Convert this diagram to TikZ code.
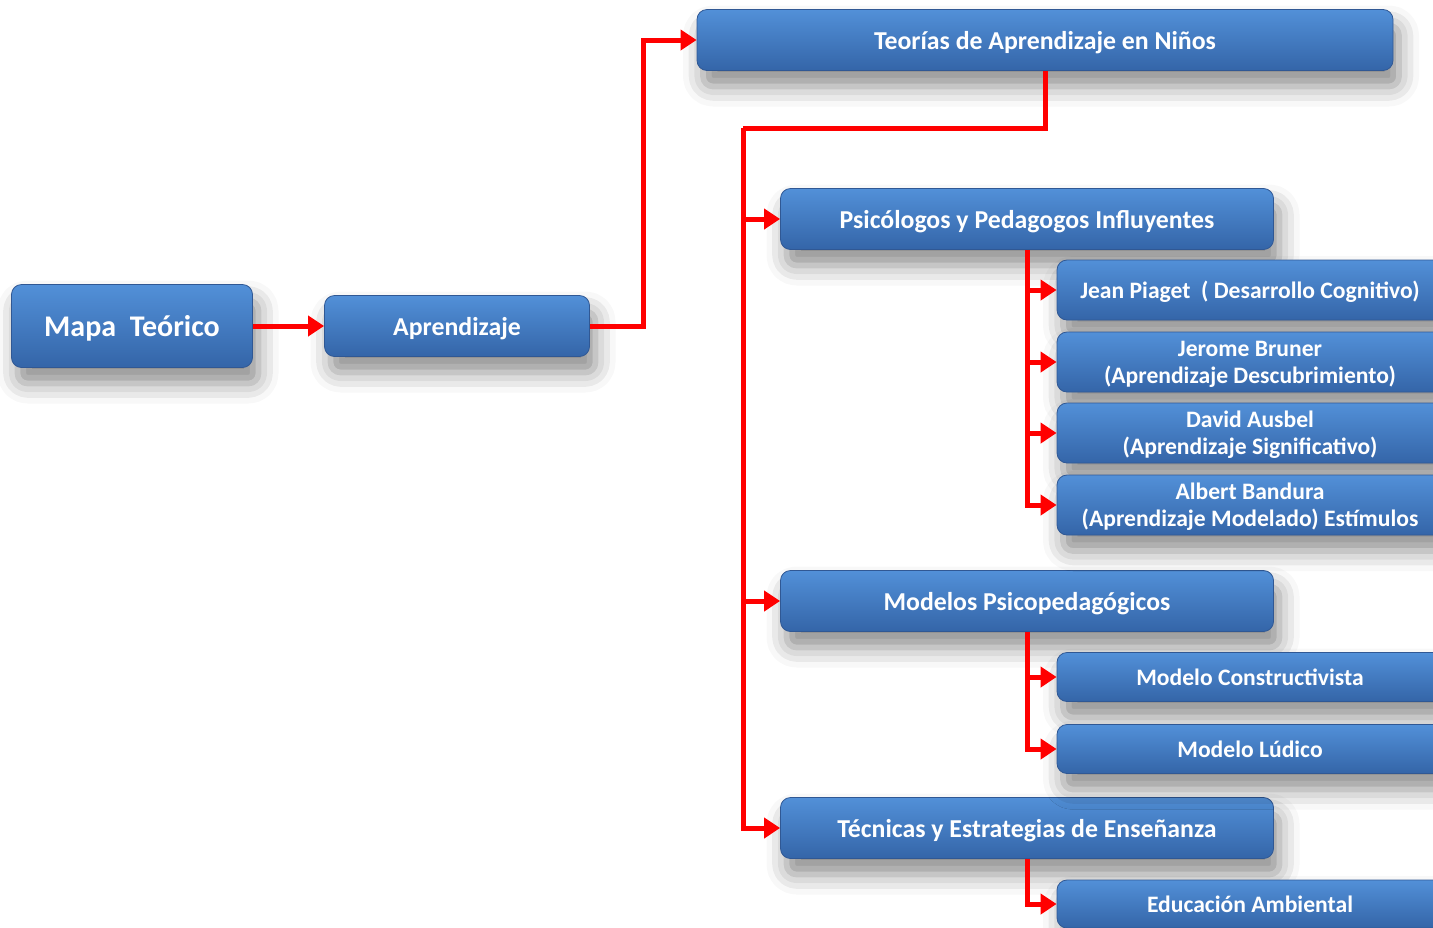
\documentclass[tikz,border=0pt]{standalone}
\usepackage{fontspec}
\setmainfont{Carlito}
\usetikzlibrary{arrows.meta,shadows.blur}

\definecolor{boxtop}{RGB}{82,144,216}
\definecolor{boxbot}{RGB}{52,101,168}
\definecolor{boxline}{RGB}{48,88,148}
\definecolor{linkred}{RGB}{255,0,0}

\tikzset{
  box/.style={rectangle, rounded corners=5pt, top color=boxtop, bottom color=boxbot,
    draw=boxline, line width=0.4pt, text=white, font=\bfseries\fontsize{12.9}{14}\selectfont,
    align=center, inner sep=0pt, text depth=0pt,
    blur shadow={shadow xshift=3pt, shadow yshift=-8pt, shadow blur radius=10pt, shadow opacity=45}},
  subbox/.style={box, minimum width=193pt, font=\bfseries\fontsize{11.8}{13.5}\selectfont},
  line/.style={draw=linkred, line width=2.5pt},
  link/.style={line, -{Triangle[length=8pt,width=10pt]}}
}

\begin{document}
\begin{tikzpicture}[x=0.5pt,y=-0.5pt]
  \useasboundingbox (0,0) rectangle (1433,927);
  \clip (0,0) rectangle (1433,927);

  % Main boxes
  \node[box, minimum width=120.5pt, minimum height=41.5pt, font=\bfseries\fontsize{15}{17}\selectfont]
    (mapa) at (132,326) {Mapa\ \ Teórico};
  \node[box, minimum width=132.5pt, minimum height=30.5pt] (aprend) at (457,326) {Aprendizaje};
  \node[box, minimum width=348pt, minimum height=30.5pt] (teorias) at (1045,40) {Teorías de Aprendizaje en Niños};

  % Second level
  \node[box, minimum width=246.5pt, minimum height=30.5pt] (psico) at (1027,219) {Psicólogos y Pedagogos Influyentes};
  \node[box, minimum width=246.5pt, minimum height=30.5pt] (modelos) at (1027,601) {Modelos Psicopedagógicos};
  \node[box, minimum width=246.5pt, minimum height=30.5pt] (tecnicas) at (1027,828) {Técnicas y Estrategias de Enseñanza};

  % Third level
  \node[subbox, minimum height=30pt] (piaget) at (1250,290) {Jean Piaget\ \ ( Desarrollo Cognitivo)};
  \node[subbox, minimum height=30pt] (bruner) at (1250,362) {Jerome Bruner\\(Aprendizaje Descubrimiento)};
  \node[subbox, minimum height=30pt] (ausbel) at (1250,433) {David Ausbel\\(Aprendizaje Significativo)};
  \node[subbox, minimum height=30pt] (bandura) at (1250,505) {Albert Bandura\\(Aprendizaje Modelado) Estímulos};
  \node[subbox, minimum height=24.5pt] (constr) at (1250,677) {Modelo Constructivista};
  \node[subbox, minimum height=24.5pt] (ludico) at (1250,749) {Modelo Lúdico};
  \node[subbox, minimum height=24pt] (educ) at (1250,904) {Educación Ambiental};

  % Connectors
  \coordinate (trunk) at (743,128);
  \draw[link] (mapa.east) -- (aprend.west);
  \draw[link] (aprend.east) -- ++(54,0) |- (teorias.west);
  \draw[line] (teorias.south) |- (trunk);
  \draw[link] (trunk) |- (tecnicas.west);
  \draw[link] (trunk |- psico.west) -- (psico.west);
  \draw[link] (trunk |- modelos.west) -- (modelos.west);

  \draw[link] (psico.south) |- (bandura.west);
  \draw[link] (psico.south |- piaget.west) -- (piaget.west);
  \draw[link] (psico.south |- bruner.west) -- (bruner.west);
  \draw[link] (psico.south |- ausbel.west) -- (ausbel.west);

  \draw[link] (modelos.south) |- (ludico.west);
  \draw[link] (modelos.south |- constr.west) -- (constr.west);

  \draw[link] (tecnicas.south) |- (educ.west);
\end{tikzpicture}
\end{document}
